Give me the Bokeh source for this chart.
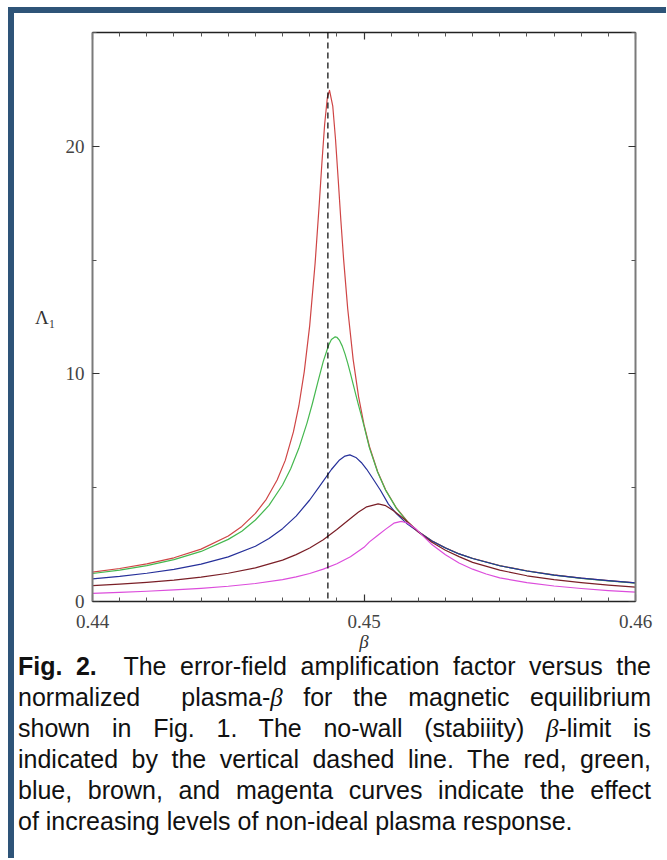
from bokeh.plotting import figure
from bokeh.models import FixedTicker, LinearAxis, Span, Div
from bokeh.layouts import column, row
from bokeh.embed import file_html
from bokeh.resources import INLINE

# ---------------- data ----------------
beta_limit = 0.44867

beta_red = [0.440, 0.441, 0.442, 0.443, 0.444, 0.445, 0.4455, 0.446, 0.4464, 0.4468, 0.4471, 0.4474,
            0.4476, 0.4478, 0.4480, 0.4482, 0.44835, 0.44845, 0.44855, 0.44865, 0.44873, 0.44885,
            0.44895, 0.44905, 0.44915, 0.44925, 0.4494, 0.4496, 0.4498, 0.4500, 0.4502, 0.4505,
            0.4508, 0.4512, 0.4516, 0.4520, 0.4525, 0.4530, 0.4535, 0.4540, 0.455, 0.456, 0.457,
            0.458, 0.459, 0.460]
lam_red = [1.29, 1.45, 1.65, 1.92, 2.30, 2.88, 3.30, 3.87, 4.49, 5.34, 6.20, 7.45,
           8.59, 10.10, 12.12, 14.87, 17.43, 19.28, 20.96, 22.14, 22.46, 21.76,
           20.32, 18.54, 16.71, 15.02, 12.86, 10.64, 9.00, 7.77, 6.81, 5.71,
           4.90, 4.10, 3.52, 3.08, 2.67, 2.36, 2.10, 1.90, 1.58, 1.35, 1.17,
           1.03, 0.92, 0.82]

beta_green = [0.440, 0.441, 0.442, 0.443, 0.444, 0.445, 0.4455, 0.446, 0.4465, 0.447, 0.4473, 0.4476,
              0.4479, 0.4481, 0.4483, 0.4485, 0.4487, 0.4488, 0.44894, 0.4490, 0.4491, 0.4492, 0.4493,
              0.4494, 0.4495, 0.4496, 0.4497, 0.4498, 0.4499, 0.4500, 0.4502, 0.4505, 0.4508, 0.4512,
              0.4516, 0.4520, 0.4525, 0.4530, 0.4535, 0.4540, 0.455, 0.456, 0.457, 0.458, 0.459, 0.460]
lam_green = [1.23, 1.38, 1.58, 1.84, 2.20, 2.73, 3.09, 3.58, 4.22, 5.12, 5.83, 6.73,
             7.84, 8.70, 9.64, 10.55, 11.27, 11.51, 11.63, 11.61, 11.47, 11.22, 10.88,
             10.47, 10.02, 9.55, 9.08, 8.62, 8.18, 7.72, 6.75, 5.69, 4.88, 4.08,
             3.50, 3.07, 2.66, 2.35, 2.09, 1.89, 1.57, 1.34, 1.16, 1.02, 0.91, 0.81]

beta_blue = [0.440, 0.441, 0.442, 0.443, 0.444, 0.445, 0.446, 0.4465, 0.447, 0.4475, 0.448, 0.4484,
             0.4488, 0.4491, 0.4493, 0.44948, 0.4497, 0.4499, 0.4501, 0.4503, 0.4506, 0.4509,
             0.4512, 0.4516, 0.4520, 0.4525, 0.4530, 0.4535, 0.4540, 0.455, 0.456, 0.457, 0.458,
             0.459, 0.460]
lam_blue = [0.99, 1.10, 1.24, 1.41, 1.64, 1.96, 2.43, 2.77, 3.20, 3.75, 4.46, 5.12,
            5.80, 6.22, 6.39, 6.44, 6.33, 6.11, 5.81, 5.45, 4.90, 4.28,
            3.85, 3.40, 3.06, 2.66, 2.35, 2.09, 1.89, 1.57, 1.34, 1.16, 1.03,
            0.92, 0.82]

beta_brown = [0.440, 0.441, 0.442, 0.443, 0.444, 0.445, 0.446, 0.447, 0.4475, 0.448, 0.4485, 0.449,
              0.4495, 0.4498, 0.4501, 0.45052, 0.4508, 0.4511, 0.4515, 0.452, 0.4525, 0.453, 0.4535,
              0.454, 0.455, 0.456, 0.457, 0.458, 0.459, 0.460]
lam_brown = [0.70, 0.76, 0.84, 0.94, 1.07, 1.24, 1.48, 1.82, 2.06, 2.35, 2.71, 3.16,
             3.65, 3.93, 4.16, 4.29, 4.21, 3.98, 3.60, 3.05, 2.60, 2.25, 1.97,
             1.72, 1.38, 1.13, 0.96, 0.83, 0.72, 0.63]

beta_magenta = [0.440, 0.441, 0.442, 0.443, 0.444, 0.445, 0.446, 0.447, 0.4475, 0.448, 0.4485, 0.449,
                0.4495, 0.450, 0.4502, 0.4505, 0.4508, 0.4511, 0.45137, 0.4516, 0.4519, 0.4522,
                0.4525, 0.453, 0.4535, 0.454, 0.4545, 0.455, 0.456, 0.457, 0.458, 0.459, 0.460]
lam_magenta = [0.36, 0.40, 0.45, 0.51, 0.58, 0.67, 0.79, 0.96, 1.08, 1.23, 1.42, 1.66,
               1.97, 2.38, 2.62, 2.90, 3.18, 3.44, 3.52, 3.45, 3.20, 2.85,
               2.50, 2.05, 1.69, 1.42, 1.21, 1.04, 0.83, 0.68, 0.57, 0.48, 0.41]

x_major = [0.44, 0.45, 0.46]
x_minor = [0.441, 0.442, 0.443, 0.444, 0.445, 0.446, 0.447, 0.448, 0.449,
           0.451, 0.452, 0.453, 0.454, 0.455, 0.456, 0.457, 0.458, 0.459]
x_labels = ["0.44", "0.45", "0.46"]
y_major = [0, 10, 20]
y_minor = [5, 15, 25]
y_labels = ["0", "10", "20"]

series = [
    (beta_red, lam_red, "#cf4545"),
    (beta_green, lam_green, "#45b84f"),
    (beta_blue, lam_blue, "#26309a"),
    (beta_brown, lam_brown, "#7a1f27"),
    (beta_magenta, lam_magenta, "#dc4ddc"),
]

BLUE = "#2e5478"
TICK_FONT = "Liberation Serif"

# ---------------- figure ----------------
p = figure(width=645, height=646, x_range=(0.44, 0.46), y_range=(0, 25),
           output_backend="svg", toolbar_location=None,
           min_border_left=78, min_border_right=24, min_border_top=19, min_border_bottom=58,
           x_axis_location=None, y_axis_location=None)
p.outline_line_color = None
p.grid.visible = False
p.background_fill_color = "white"
p.border_fill_color = "white"


def style_axis(ax, ticks, minor, labels, line_color, line_width, show_labels):
    ax.ticker = FixedTicker(ticks=ticks, minor_ticks=minor)
    ax.axis_line_color = line_color
    ax.axis_line_width = line_width
    ax.major_tick_in = 7
    ax.major_tick_out = 0
    ax.minor_tick_in = 4
    ax.minor_tick_out = 0
    ax.major_tick_line_color = "#333333"
    ax.minor_tick_line_color = "#555555"
    ax.major_tick_line_width = 1.2
    ax.minor_tick_line_width = 1
    if show_labels:
        ax.major_label_overrides = {t: l for t, l in zip(ticks, labels)}
        ax.major_label_text_font = TICK_FONT
        ax.major_label_text_font_size = "19px"
        ax.major_label_text_color = "#444444"
    else:
        ax.major_label_overrides = {t: "" for t in ticks}
        ax.major_label_text_font_size = "0px"
        ax.major_label_standoff = 0


xb = LinearAxis()
style_axis(xb, x_major, x_minor, x_labels, "#222222", 1.5, True)
xb.major_label_standoff = 13
xb.axis_label = "β"
xb.axis_label_text_font = TICK_FONT
xb.axis_label_text_font_style = "italic"
xb.axis_label_text_font_size = "19px"
xb.axis_label_text_color = "#333333"
xb.axis_label_standoff = 0
p.add_layout(xb, "below")

xt = LinearAxis()
style_axis(xt, x_major, x_minor, x_labels, "#222222", 1.5, False)
p.add_layout(xt, "above")

yl = LinearAxis()
style_axis(yl, y_major, y_minor, y_labels, "#7a7a7a", 2, True)
yl.major_label_standoff = 8
yl.axis_label = "Λ₁"
yl.axis_label_orientation = "horizontal"
yl.axis_label_text_font = TICK_FONT
yl.axis_label_text_font_style = "normal"
yl.axis_label_text_font_size = "19px"
yl.axis_label_text_color = "#333333"
yl.axis_label_standoff = 7
p.add_layout(yl, "left")

yr = LinearAxis()
style_axis(yr, y_major, y_minor, y_labels, "#7a7a7a", 2, False)
p.add_layout(yr, "right")

for xs, ys, col in series:
    p.line(xs, ys, line_color=col, line_width=1.2, line_join="round")

p.add_layout(Span(location=beta_limit, dimension="height", line_color="black",
                  line_width=1.2, line_dash="6 4"))

# ---------------- caption & frame ----------------
lines = [
    "<b>Fig. 2.</b>&nbsp; The error-field amplification factor versus the",
    "normalized&nbsp; plasma-<i style=\"font-family:'Liberation Serif'\">β</i> for the magnetic equilibrium",
    "shown in Fig. 1. The no-wall (stabiiity) <i style=\"font-family:'Liberation Serif'\">β</i>-limit is",
    "indicated by the vertical dashed line. The red, green,",
    "blue, brown, and magenta curves indicate the effect",
]
last = "of increasing levels of non-ideal plasma response."
html = "".join(
    f"<div style=\"text-align:justify; text-align-last:justify; white-space:nowrap;\">{l}</div>"
    for l in lines)
html += f"<div style=\"text-align:left;\">{last}</div>"
caption_html = (
    "<div style=\"width:633px; margin-left:4px; font-family:'Liberation Sans', Arial, sans-serif; "
    "font-size:25px; line-height:31px; color:#111;\">" + html + "</div>")
caption = Div(text=caption_html, width=645, height=192, margin=(-8, 0, 0, 0))

top_bar = Div(text="", width=658, height=6, margin=(7, 0, 0, 8), styles={"background-color": BLUE})
left_bar = Div(text="", width=6, height=845, margin=(0, 0, 0, 8), styles={"background-color": BLUE})

layout = column(top_bar, row(left_bar, column(p, caption, spacing=0), spacing=0), spacing=0)

open("out.html", "w").write(file_html(layout, INLINE))
